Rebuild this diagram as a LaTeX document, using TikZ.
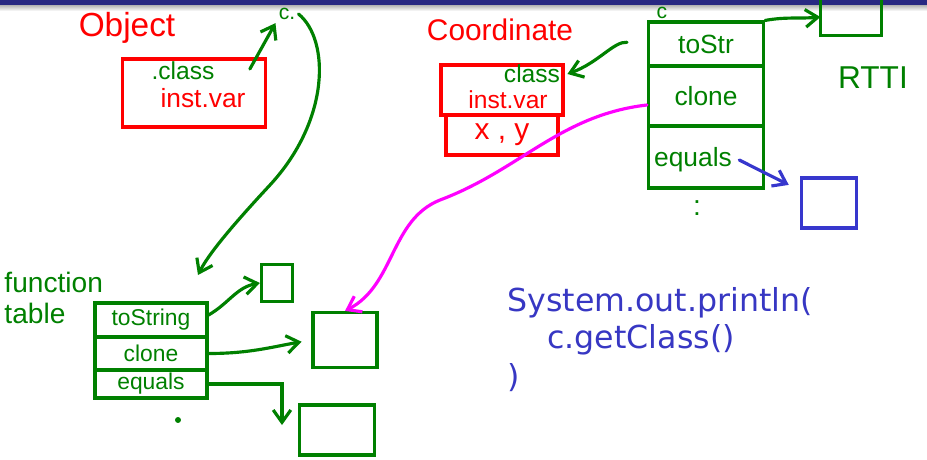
\documentclass[tikz,border=0pt]{standalone}
\usepackage{fontspec}
\setmainfont{DejaVu Sans}
\newfontfamily\handfont{Liberation Sans}
\usetikzlibrary{arrows.meta}

\definecolor{penred}{RGB}{255,0,0}
\definecolor{pengreen}{RGB}{0,128,0}
\definecolor{penmagenta}{RGB}{255,0,255}
\definecolor{penblue}{RGB}{55,55,205}
\definecolor{codeblue}{RGB}{55,55,195}
\definecolor{barblue}{RGB}{40,40,130}

\begin{document}
\begin{tikzpicture}[x=0.02cm,y=-0.02cm,line width=1.8pt,line cap=round,
    >={Straight Barb[length=7pt,width=10pt]},
    hand/.style={font=\handfont\fontsize{#1}{#1}\selectfont},
    hand/.default=14,
    cell/.style={draw,rectangle,inner sep=0pt}]
    \useasboundingbox (0,0) rectangle (927,460);

    % slide bar
    \fill[barblue] (0,-2) rectangle (927,5);
    \shade[top color=gray!60,bottom color=white] (0,5) rectangle (927,11);

    % Object
    \node[hand=19,text=penred] (objtitle) at (127,28) {Object};
    \node[cell,draw=penred,minimum width=2.86cm,minimum height=1.36cm] (objbox) at (194,93) {};
    \node[hand=14,text=pengreen] (objclass) at (183,71) {.class};
    \node[hand=15,text=penred] (objvar) at (203,98) {inst.var};
    \node[inner sep=1pt,hand=12,text=pengreen] (cobj) at (287,14) {c.};

    % Coordinate
    \node[hand=17,text=penred] (coordtitle) at (500,30) {Coordinate};
    \node[cell,draw=penred,minimum width=2.44cm,minimum height=1.0cm] (coordtop) at (502,90) {};
    \node[cell,draw=penred,hand=17,text=penred,minimum width=2.24cm,minimum height=0.8cm] (coordxy) at (502,135) {x , y};
    \node[hand=14,text=pengreen] (coordclass) at (532,74) {class};
    \node[hand=14,text=penred] (coordvar) at (508,100) {inst.var};

    % class table of c
    \node[inner sep=1pt,hand=12,text=pengreen] (cvar) at (662,13) {c};
    \node[cell,draw=pengreen,hand=15,text=pengreen,minimum width=2.3cm,minimum height=0.88cm] (vtostr) at (706,44) {toStr};
    \node[cell,draw=pengreen,hand=15,text=pengreen,minimum width=2.3cm,minimum height=1.2cm] (vclone) at (706,96) {clone};
    \node[cell,draw=pengreen,minimum width=2.3cm,minimum height=1.24cm] (vequals) at (706,157) {};
    \node[hand=15,text=pengreen] (vequalstxt) at (693,160) {equals};
    \node[hand=16,text=pengreen] (vdots) at (697,208) {:};
    \node[minimum width=1.16cm,minimum height=0.68cm] (rtti) at (851,17) {};
    \draw[pengreen] (rtti.north west) |- (rtti.south east) -- (rtti.north east);
    \node[hand=18,text=pengreen] (rttilabel) at (873,78) {RTTI};
    \node[cell,draw=penblue,minimum width=1.1cm,minimum height=1.0cm] (bluebox) at (829,203) {};

    % function table
    \node[hand=16,text=pengreen,anchor=west] (fnlabel) at (-3,282) {function};
    \node[hand=16,text=pengreen,anchor=west] (tablabel) at (-3,313) {table};
    \node[cell,draw=pengreen,hand=13,text=pengreen,minimum width=2.24cm,minimum height=0.68cm] (ftostring) at (151,320) {toString};
    \node[cell,draw=pengreen,hand=13,text=pengreen,minimum width=2.24cm,minimum height=0.66cm] (fclone) at (151,353.5) {clone};
    \node[cell,draw=pengreen,hand=13,text=pengreen,minimum width=2.24cm,minimum height=0.56cm] (fequals) at (151,384) {equals};
    \node[circle,fill=pengreen,inner sep=1.2pt] (fdot) at (178,420) {};
    \node[cell,draw=pengreen,minimum width=0.62cm,minimum height=0.74cm] (box1) at (277,283) {};
    \node[cell,draw=pengreen,minimum width=1.28cm,minimum height=1.1cm] (memclone) at (345,340) {};
    \node[cell,draw=pengreen,minimum width=1.5cm,minimum height=1.0cm] (box3) at (337,430) {};
    \coordinate (box3in) at (282,425);
    \coordinate (ftabin) at (198,275);

    % code
    \node[anchor=west,text=codeblue,font=\fontsize{18}{21}\selectfont] (printa) at (500,303) {System.out.println(};
    \node[anchor=west,text=codeblue,font=\fontsize{18}{21}\selectfont] (printb) at (540,340) {c.getClass()};
    \node[anchor=west,text=codeblue,font=\fontsize{18}{21}\selectfont] (printc) at (500,378) {)};

    % pointers
    \draw[->,pengreen] ([xshift=0.56cm,yshift=0.04cm]objclass.east) -- (cobj.south west);
    \draw[->,pengreen] (cobj.east) .. controls (330,40) and (330,120) .. (270,185)
        .. controls (230,228) and (208,255) .. (ftabin);
    \draw[->,pengreen,shorten <=0.4cm] (vtostr.west) to[out=175,in=20] (coordclass.east);
    \draw[->,pengreen] (vtostr.north east) to[out=10,in=185] (rtti.west);
    \draw[->,penblue,shorten >=0.25cm] (vequalstxt.east) -- ([yshift=0.25cm]bluebox.west);
    \draw[->,penmagenta] ([yshift=-0.18cm]vclone.west) .. controls (560,115) and (520,170) .. (440,200)
        .. controls (390,220) and (395,285) .. (memclone.north);
    \draw[->,pengreen] ([yshift=0.1cm]ftostring.east) to[out=30,in=190] (box1.west);
    \draw[->,pengreen,shorten >=0.2cm] (fclone.east) to[out=0,in=190] (memclone.west);
    \draw[->,pengreen] (fequals.east) -| (box3in);
\end{tikzpicture}
\end{document}
